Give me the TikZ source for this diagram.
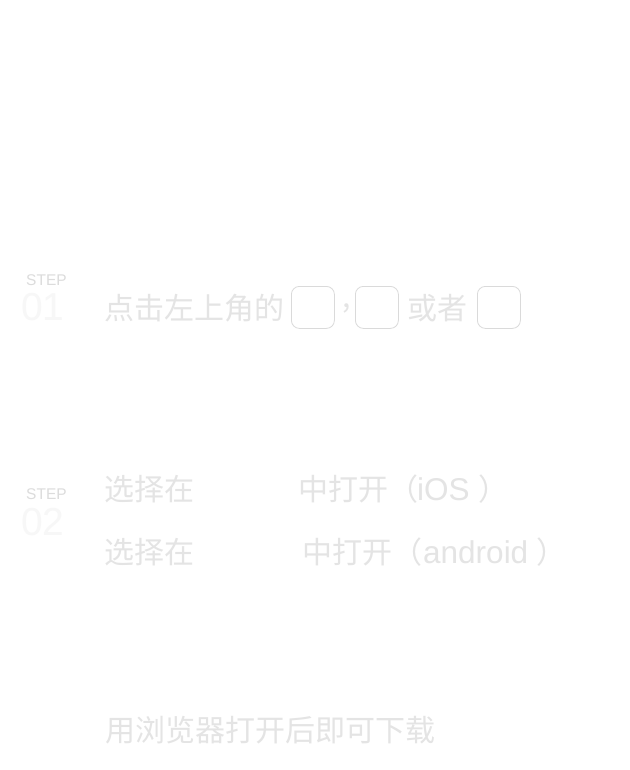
\documentclass[tikz,border=0pt]{standalone}
\usepackage{fontspec}
\setmainfont{Noto Sans CJK SC}
\newfontfamily\stepfont{Liberation Sans}
\newfontfamily\latinfont{Liberation Sans}
\newcommand{\lat}[1]{{\latinfont\fontsize{31.5bp}{36bp}\selectfont #1}}
\definecolor{txt}{HTML}{E4E4E4}
\definecolor{steptxt}{HTML}{DCDCDC}
\definecolor{numtxt}{HTML}{F7F7F7}
\definecolor{boxline}{HTML}{DADADA}
\tikzset{
  maintext/.style={anchor=base west, inner sep=0pt, text=txt, font=\fontsize{30bp}{36bp}\selectfont},
  steplabel/.style={anchor=base west, inner sep=0pt, text=steptxt, font=\stepfont\fontsize{15.5bp}{18bp}\selectfont},
  stepnum/.style={anchor=base west, inner sep=0pt, text=numtxt, font=\stepfont\fontsize{39bp}{44bp}\selectfont},
  iconbox/.style={draw=boxline, line width=0.8bp, rounded corners=8bp, minimum width=43bp, minimum height=42bp, inner sep=0pt, anchor=north west}
}
\begin{document}
\begin{tikzpicture}[x=1bp,y=-1bp]
\path[fill=white] (0,0) rectangle (630,770);
\useasboundingbox (0,0) rectangle (630,770);
% step 1
\node[steplabel] (s1) at (26,285) {STEP};
\node[stepnum] (n1) at (21,320) {01};
\node[maintext] (t1) at (104,319) {点击左上角的};
\node[iconbox] (b1) at (291,286) {};
\node[anchor=center, inner sep=0pt, text=txt, font=\fontsize{30bp}{36bp}\selectfont] (c1) at (347,308) {,};
\node[iconbox] (b2) at (355,286) {};
\node[maintext] (t2) at (407,319) {或者};
\node[iconbox] (b3) at (477,286) {};
% step 2
\node[steplabel] (s2) at (26,499) {STEP};
\node[stepnum] (n2) at (21,535) {02};
\node[maintext] (t3) at (104,500) {选择在};
\node[maintext] (t4) at (298,500) {中打开（\hspace{-1bp}\lat{iOS}\hspace{9bp}）};
\node[maintext] (t5) at (104,563) {选择在};
\node[maintext] (t6) at (302,563) {中打开（\hspace{1bp}\lat{android}\hspace{8bp}）};
% step 3
\node[maintext] (t7) at (105,741) {用浏览器打开后即可下载};
\end{tikzpicture}
\end{document}
